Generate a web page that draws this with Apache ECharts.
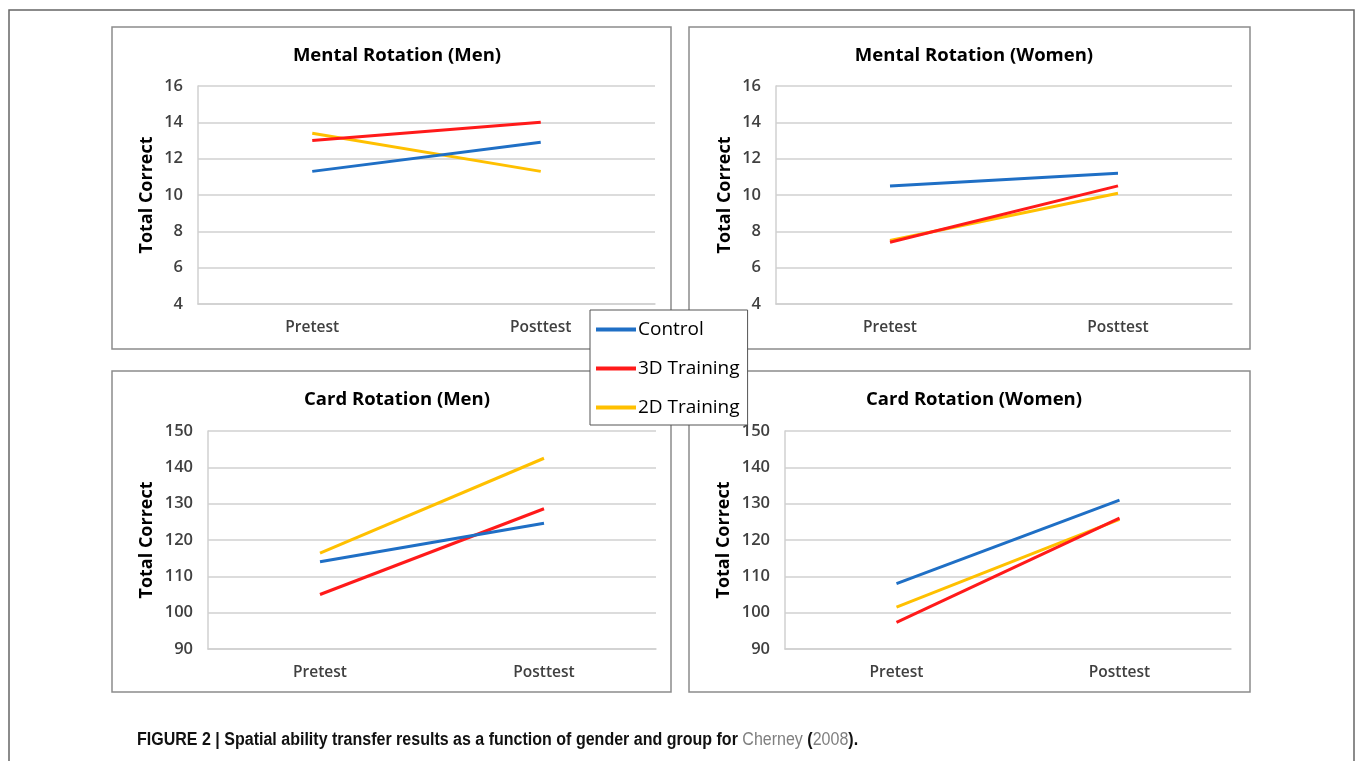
<!DOCTYPE html>
<html><head><meta charset="utf-8">
<script src="https://cdn.jsdelivr.net/npm/echarts@6/dist/echarts.min.js"></script>
<style>html,body{margin:0;padding:0;background:#fff}#c{width:1355px;height:761px}</style>
</head><body><div id="c"></div>
<script>
const categories = ['Pretest', 'Posttest'];
const seriesNames = ['Control', '3D Training', '2D Training'];
const colors = ['#1f6fc5', '#ff1a1a', '#ffc000'];
const panelTitles = ['Mental Rotation (Men)', 'Mental Rotation (Women)', 'Card Rotation (Men)', 'Card Rotation (Women)'];
const mentalMen = { control: [11.3, 12.9], d3: [13.0, 14.0], d2: [13.4, 11.3] };
const mentalWomen = { control: [10.5, 11.2], d3: [7.4, 10.5], d2: [7.5, 10.1] };
const cardMen = { control: [114.0, 124.6], d3: [105.0, 128.6], d2: [116.4, 142.5] };
const cardWomen = { control: [108.0, 131.0], d3: [97.3, 126.0], d2: [101.5, 125.7] };
const yRanges = [[4, 16, 2], [4, 16, 2], [90, 150, 10], [90, 150, 10]];
const yName = 'Total Correct';

const panels = [mentalMen, mentalWomen, cardMen, cardWomen];
const gridPos = [
  {left: 198, top: 86, width: 457, height: 218},
  {left: 776, top: 86, width: 456, height: 218},
  {left: 208, top: 431, width: 448, height: 218},
  {left: 785, top: 431, width: 446, height: 218}
];
const nameGaps = [42, 42, 52, 52];
const titlePos = [[392, 41], [969, 41], [392, 385], [969, 385]];
const boxes = [[112, 27, 559, 322], [689, 27, 561, 322], [112, 371, 559, 321], [689, 371, 561, 321]];
const FONT = '"Open Sans", "Noto Sans", sans-serif';

const chart = echarts.init(document.getElementById('c'));
const grids = [], xAxes = [], yAxes = [], series = [], titles = [];
panels.forEach((p, i) => {
  grids.push(Object.assign({containLabel: false}, gridPos[i]));
  xAxes.push({type: 'category', gridIndex: i, data: categories, boundaryGap: true,
    axisLine: {show: true, lineStyle: {color: '#d0d0d0', width: 1.5}},
    axisTick: {show: false},
    axisLabel: {color: '#404040', fontSize: 15.5, fontWeight: 600, fontFamily: FONT, margin: 16}});
  yAxes.push({type: 'value', gridIndex: i, min: yRanges[i][0], max: yRanges[i][1], interval: yRanges[i][2],
    axisLine: {show: true, lineStyle: {color: '#d0d0d0', width: 1.5}},
    axisTick: {show: false},
    splitLine: {show: true, lineStyle: {color: '#d0d0d0', width: 1.5}},
    axisLabel: {color: '#404040', fontSize: 16.5, fontWeight: 600, fontFamily: FONT, margin: 15},
    name: yName, nameLocation: 'middle', nameRotate: 90, nameGap: nameGaps[i],
    nameTextStyle: {color: '#000', fontSize: 18, fontWeight: 'bold', fontFamily: FONT}});
  const vals = [p.control, p.d3, p.d2];
  vals.forEach((v, k) => {
    series.push({type: 'line', name: seriesNames[k], xAxisIndex: i, yAxisIndex: i, data: v,
      symbol: 'none', lineStyle: {color: colors[k], width: 3}, itemStyle: {color: colors[k]},
      z: k === 0 ? 4 : (k === 1 ? 3 : 2), animation: false});
  });
  titles.push({text: panelTitles[i], left: titlePos[i][0], top: titlePos[i][1], textAlign: 'center',
    textStyle: {color: '#000', fontSize: 18.5, fontWeight: 'bold', fontFamily: FONT}});
});

const graphics = [
  {type: 'rect', shape: {x: 9, y: 10, width: 1345, height: 800}, style: {fill: 'none', stroke: '#666', lineWidth: 1.5}, z: 0, silent: true}
];
boxes.forEach(b => graphics.push({type: 'rect', shape: {x: b[0], y: b[1], width: b[2], height: b[3]},
  style: {fill: 'none', stroke: '#8c8c8c', lineWidth: 1.5}, z: 0, silent: true}));
graphics.push({type: 'text', x: 137, y: 731, scaleX: 0.89, z: 10, style: {
  text: '{b|FIGURE 2 | Spatial ability transfer results as a function of gender and group for }{g|Cherney}{b| (}{g|2008}{b|).}',
  rich: {
    b: {fontFamily: '"Liberation Sans", sans-serif', fontWeight: 'bold', fontSize: 18, fill: '#111'},
    g: {fontFamily: '"Liberation Sans", sans-serif', fontWeight: 'normal', fontSize: 18, fill: '#7f7f7f'}
  }}});

chart.setOption({
  animation: false,
  backgroundColor: '#fff',
  title: titles,
  grid: grids, xAxis: xAxes, yAxis: yAxes, series: series,
  legend: {data: seriesNames, orient: 'vertical', left: 590, top: 310, width: 158,
    backgroundColor: '#fff', borderColor: '#555', borderWidth: 1,
    padding: [10, 8, 8, 6], itemGap: 20, itemWidth: 40, itemHeight: 4, icon: 'rect',
    textStyle: {color: '#000', fontSize: 19, fontFamily: '"Open Sans", sans-serif', padding: [0, 0, 0, -3]}, z: 20},
  graphic: graphics
});
</script></body></html>
